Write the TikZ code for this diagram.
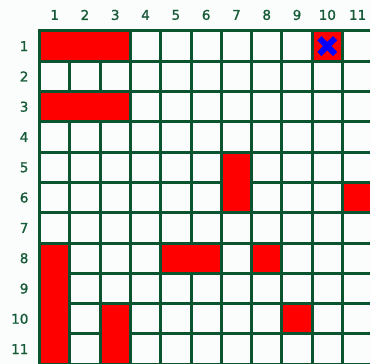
\documentclass[tikz,border=0pt]{standalone}
\usepackage{fontspec}
\setmainfont{DejaVu Sans}
\newfontfamily\numfont[FakeBold=1.2]{DejaVu Sans}
\definecolor{gline}{RGB}{10,85,48}
\definecolor{gtxt}{RGB}{22,90,56}
\definecolor{bgc}{RGB}{250,253,251}
\tikzset{
  grd/.style={draw=gline,line width=3pt,line cap=rect},
  blk/.style={fill=red},
  num/.style={font=\numfont\fontsize{13.5}{15}\selectfont,text=gtxt,inner sep=0pt},
  crs/.style={draw=blue,line width=6pt},
}

\begin{document}
\begin{tikzpicture}[x=30.3pt,y=-30.3pt]
  \fill[bgc] (-1.304,-1.023) rectangle (10.908,10.99);
  \useasboundingbox (-1.304,-1.023) rectangle (10.908,10.99);
  % labels
  \foreach \i in {1,...,11}{
    \node[num] (c\i) at (\i-.5,-.53) {\i};
    \node[num,anchor=east] (r\i) at (-.36,\i-.5) {\i};
  }
  % grid
  \foreach \i in {0,...,11}{
    \draw[grd] (\i,0) -- (\i,11);
    \draw[grd] (0,\i) -- (11,\i);
  }
  % blocked cells
  \foreach \a/\b/\c/\d in {0/0/3/1,0/2/3/3,9/0/10/1,6/4/7/6,10/5/11/6,
                           4/7/6/8,7/7/8/8,0/7/1/11,2/9/3/11,8/9/9/10}
    \fill[blk] ([xshift=1.5pt,yshift=-1.5pt]\a,\b) rectangle ([xshift=-1.5pt,yshift=1.5pt]\c,\d);
  % target
  \draw[crs] (9.24,.24) -- (9.76,.76);
  \draw[crs] (9.24,.76) -- (9.76,.24);
\end{tikzpicture}
\end{document}
